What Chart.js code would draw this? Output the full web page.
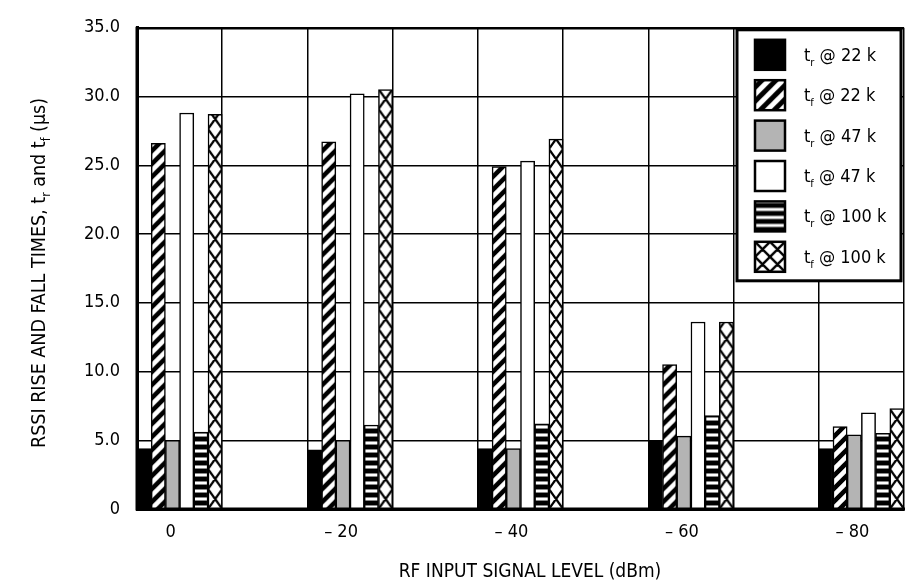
<!DOCTYPE html>
<html><head><meta charset="utf-8">
<script src="https://cdn.jsdelivr.net/npm/chart.js@4.4.0/dist/chart.umd.min.js"></script>
<style>html,body{margin:0;padding:0;background:#fff;overflow:hidden}#wrap{position:relative;width:905px;height:588px}</style>
</head><body><div id="wrap"><canvas id="c" width="905" height="588"></canvas></div>
<script>
// ---- data ----
const categories = ['0', '– 20', '– 40', '– 60', '– 80'];
const yTickValues = [0, 5, 10, 15, 20, 25, 30, 35];
const seriesNames = [
  [{t:'t'},{t:'r',sub:true},{t:' @ 22 k'}],
  [{t:'t'},{t:'f',sub:true},{t:' @ 22 k'}],
  [{t:'t'},{t:'r',sub:true},{t:' @ 47 k'}],
  [{t:'t'},{t:'f',sub:true},{t:' @ 47 k'}],
  [{t:'t'},{t:'r',sub:true},{t:' @ 100 k'}],
  [{t:'t'},{t:'f',sub:true},{t:' @ 100 k'}]
];
const trAt22k  = [4.4, 4.3, 4.4, 5.0, 4.4];
const tfAt22k  = [26.6, 26.7, 24.9, 10.5, 6.0];
const trAt47k  = [5.0, 5.0, 4.4, 5.3, 5.4];
const tfAt47k  = [28.8, 30.2, 25.3, 13.6, 7.0];
const trAt100k = [5.6, 6.1, 6.2, 6.8, 5.5];
const tfAt100k = [28.7, 30.5, 26.9, 13.6, 7.3];
const xTitle = 'RF INPUT SIGNAL LEVEL (dBm)';
const yTitle = [{t:'RSSI RISE AND FALL TIMES, t'},{t:'r',sub:true},{t:' and t'},{t:'f',sub:true},{t:' (µs)'}];

// ---- style ----
const FONT = '"Liberation Sans Narrow", "Arial Narrow", "DejaVu Sans Condensed", "Liberation Sans", sans-serif';
Chart.defaults.font.family = FONT;
Chart.defaults.color = '#000';
const TICK_SIZE = 18, X_TITLE_SIZE = 19, Y_TITLE_SIZE = 19.5, LEGEND_SIZE = 18;

// slots: each category followed by an empty half-slot (as in the original layout)
const slots = [];
categories.forEach((c, i) => { slots.push(c); if (i < categories.length - 1) slots.push(''); });
const expand = arr => { const o = []; arr.forEach((v, i) => { o.push(v); if (i < arr.length - 1) o.push(null); }); return o; };

function mk(w, h) { const c = document.createElement('canvas'); c.width = w; c.height = h; return c; }
function diagTile(p) {
  const c = mk(p, p), g = c.getContext('2d');
  g.fillStyle = '#000'; g.fillRect(0, 0, p, p);
  g.strokeStyle = '#fff'; g.lineWidth = p / (2 * Math.SQRT2);
  g.beginPath();
  for (const k of [-1, 0, 1, 2, 3]) { const cc = k * p; g.moveTo(cc - 2 * p, 2 * p); g.lineTo(cc + 2 * p, -2 * p); }
  g.stroke();
  return c;
}
function crossTile(w, h, lw) {
  const c = mk(w, h), g = c.getContext('2d');
  g.fillStyle = '#fff'; g.fillRect(0, 0, w, h);
  g.strokeStyle = '#000'; g.lineWidth = lw; g.beginPath();
  for (const dx of [-w, 0, w]) for (const dy of [-h, 0, h]) {
    g.moveTo(dx, dy); g.lineTo(dx + w, dy + h);
    g.moveTo(dx + w, dy); g.lineTo(dx, dy + h);
  }
  g.stroke();
  return c;
}
function hstripeTile() {
  const c = mk(4, 8), g = c.getContext('2d');
  const rows = ['#000', '#000', '#000', '#000', '#888', '#fff', '#fff', '#888'];
  rows.forEach((col, i) => { g.fillStyle = col; g.fillRect(0, i, 4, 1); });
  return c;
}
const tiles = { diag: diagTile(13), cross: crossTile(14, 20, 2.2), hs: hstripeTile() };

function patternFill(kind, fallback) {
  return (ctx) => {
    const chart = ctx.chart, xs = chart.scales && chart.scales.x, ys = chart.scales && chart.scales.y;
    if (ctx.type !== 'data' || !xs || !ys || !isFinite(xs.left)) return fallback;
    const catW = (xs.right - xs.left) / slots.length;
    const bw = catW / 6;
    const left = xs.getPixelForValue(ctx.index) - catW / 2 + ctx.datasetIndex * bw;
    const base = ys.getPixelForValue(0);
    const tile = tiles[kind];
    const pat = chart.ctx.createPattern(tile, 'repeat');
    const sx = kind === 'cross' ? bw / tile.width : 1;
    pat.setTransform(new DOMMatrix().translate(left, base).scale(sx, 1));
    return pat;
  };
}

const fills = ['#000', patternFill('diag', '#000'), '#b4b4b4', '#fff', patternFill('hs', '#000'), patternFill('cross', '#fff')];
const seriesData = [trAt22k, tfAt22k, trAt47k, tfAt47k, trAt100k, tfAt100k];

function legendSwatch(g, i, x, y, s) {
  g.save();
  g.beginPath(); g.rect(x, y, s, s); g.clip();
  if (i === 0) { g.fillStyle = '#000'; g.fillRect(x, y, s, s); }
  else if (i === 2) { g.fillStyle = '#b4b4b4'; g.fillRect(x, y, s, s); }
  else if (i === 3) { g.fillStyle = '#fff'; g.fillRect(x, y, s, s); }
  else {
    const tile = i === 1 ? diagTile(14) : i === 4 ? hstripeTile() : crossTile(15, 15, 2.4);
    const p = g.createPattern(tile, 'repeat');
    p.setTransform(new DOMMatrix().translate(x, y + (i === 4 ? 2 : 0)));
    g.fillStyle = p; g.fillRect(x, y, s, s);
  }
  g.restore();
  g.lineWidth = 2.5; g.strokeStyle = '#000'; g.strokeRect(x, y, s, s);
}

function subSize(size) { return Math.round(size * 0.62); }
function richWidth(g, parts, size) {
  let w = 0;
  for (const p of parts) { g.font = (p.sub ? subSize(size) : size) + 'px ' + FONT; w += g.measureText(p.t).width; }
  return w;
}
function drawRich(g, parts, x, y, size) {
  let cx = x;
  for (const p of parts) {
    g.font = (p.sub ? subSize(size) : size) + 'px ' + FONT;
    g.fillText(p.t, cx, p.sub ? y + size * 0.28 : y);
    cx += g.measureText(p.t).width;
  }
}

const overlay = {
  id: 'overlay',
  afterDatasetsDraw(chart) {
    const g = chart.ctx, a = chart.chartArea;
    g.save();
    g.strokeStyle = '#000'; g.lineWidth = 3; g.lineJoin = 'miter';
    g.beginPath(); g.moveTo(a.left, a.top - 1); g.lineTo(a.left, a.bottom); g.lineTo(a.right + 2, a.bottom); g.stroke();
    g.restore();
  },
  afterDraw(chart) {
    const g = chart.ctx, a = chart.chartArea;
    g.save();
    // legend box
    const bx = a.right - 167, by = a.top + 2, bw = 164, bh = 251;
    g.fillStyle = '#fff'; g.fillRect(bx, by, bw, bh);
    g.lineWidth = 3; g.strokeStyle = '#000'; g.strokeRect(bx, by, bw, bh);
    g.fillStyle = '#000'; g.textBaseline = 'alphabetic'; g.textAlign = 'left';
    seriesNames.forEach((parts, i) => {
      const sy = by + 10 + i * 40.4;
      legendSwatch(g, i, bx + 18, sy, 30);
      g.fillStyle = '#000';
      drawRich(g, parts, bx + 67, sy + 21, LEGEND_SIZE);
    });
    // x title
    const xw = richWidth(g, [{t: xTitle}], X_TITLE_SIZE);
    drawRich(g, [{t: xTitle}], 530 - xw / 2, 577, X_TITLE_SIZE);
    // y title
    g.translate(45, 273); g.rotate(-Math.PI / 2);
    const yw = richWidth(g, yTitle, Y_TITLE_SIZE);
    drawRich(g, yTitle, -yw / 2, 0, Y_TITLE_SIZE);
    g.restore();
  }
};

new Chart(document.getElementById('c'), {
  type: 'bar',
  data: {
    labels: slots,
    datasets: seriesData.map((d, i) => ({
      label: seriesNames[i].map(p => p.t).join(''),
      data: expand(d),
      backgroundColor: fills[i],
      borderColor: '#000',
      borderWidth: 1.5,
      barPercentage: 1,
      categoryPercentage: 1
    }))
  },
  options: {
    responsive: false, animation: false, devicePixelRatio: 1, events: [],
    layout: { padding: { top: 18, right: 1, left: 0, bottom: 0 } },
    plugins: { legend: { display: false }, tooltip: { enabled: false }, title: { display: false } },
    scales: {
      x: {
        grid: { color: '#000', lineWidth: 1.5, drawTicks: false, offset: true },
        border: { display: true, color: '#000', width: 3 },
        ticks: { font: { size: TICK_SIZE }, padding: 13, labelOffset: -9, autoSkip: false, maxRotation: 0, color: '#000' },
        afterFit: s => { s.height = 79; }
      },
      y: {
        min: 0, max: 35,
        afterBuildTicks: s => { s.ticks = yTickValues.map(v => ({ value: v })); },
        grid: { color: '#000', lineWidth: c => (c.tick && c.tick.value === 35 ? 2.5 : 1.5), drawTicks: false },
        border: { display: true, color: '#000', width: 3 },
        ticks: { font: { size: TICK_SIZE }, padding: 17, color: '#000', callback: v => (v === 0 ? '0' : v.toFixed(1)) },
        afterFit: s => { s.width = 137; }
      }
    }
  },
  plugins: [overlay]
});
</script></body></html>
